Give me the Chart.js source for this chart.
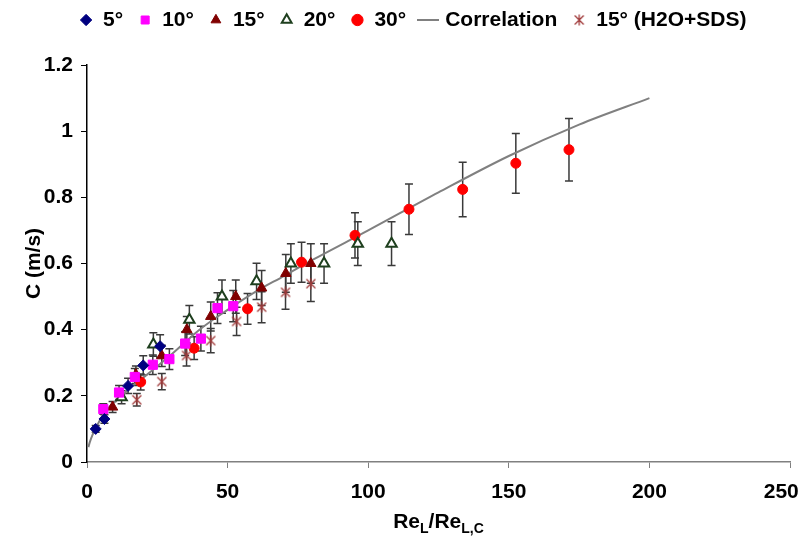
<!DOCTYPE html>
<html>
<head>
<meta charset="utf-8">
<title>C vs ReL/ReL,C</title>
<script src="https://cdn.jsdelivr.net/npm/chart.js@4.4.1/dist/chart.umd.min.js"></script>
<style>
  html, body { margin: 0; padding: 0; background: #fff; }
  #wrap { position: relative; width: 801px; height: 547px; }
  #xTitle {
    position: absolute; left: 87px; width: 703px; top: 509px;
    text-align: center; font: bold 21px "Liberation Sans", Arial, sans-serif; color: #000;
  }
  #xTitle sub { font-size: 14px; vertical-align: -5px; }
</style>
</head>
<body>
<div id="wrap">
  <canvas id="chart" width="801" height="547"></canvas>
  <div id="xTitle">Re<sub>L</sub>/Re<sub>L,C</sub></div>
</div>
<script>
// ---- data ----
const deg5X  = [3.1, 6.2, 14.6, 20.0, 26.0];
const deg5Y  = [0.10, 0.13, 0.23, 0.292, 0.35];

const deg10X = [5.8, 11.4, 17.0, 23.4, 29.3, 34.9, 40.5, 46.4, 52.0];
const deg10Y = [0.16, 0.21, 0.257, 0.294, 0.311, 0.358, 0.373, 0.465, 0.471];

const deg15X = [9.1, 17.4, 26.6, 35.5, 44.0, 52.9, 62.1, 70.7, 79.6];
const deg15Y = [0.166, 0.264, 0.321, 0.40, 0.44, 0.50, 0.526, 0.57, 0.60];

const deg20X = [12.3, 23.6, 36.4, 48.0, 60.3, 72.5, 84.3, 96.3, 108.3];
const deg20Y = [0.196, 0.355, 0.43, 0.50, 0.546, 0.60, 0.60, 0.66, 0.66];

const deg30X = [19.1, 38.1, 57.1, 76.3, 95.3, 114.5, 133.6, 152.5, 171.4];
const deg30Y = [0.242, 0.344, 0.463, 0.604, 0.685, 0.764, 0.824, 0.903, 0.944];

const sdsX   = [17.7, 26.6, 35.4, 44.0, 53.2, 62.1, 70.6, 79.6];
const sdsY   = [0.188, 0.243, 0.322, 0.367, 0.425, 0.468, 0.513, 0.539];

const corrX  = [0.5, 1, 2, 3, 5, 7.5, 10, 12.5, 15, 20, 30, 40, 50, 60, 70, 80, 100, 125, 150, 175, 200];
const corrY  = [0.045, 0.06, 0.083, 0.10, 0.132, 0.163, 0.183, 0.20, 0.222, 0.255, 0.325, 0.40, 0.46, 0.515, 0.562, 0.61, 0.70, 0.815, 0.925, 1.02, 1.10];

// relative error shown by the bars (about 10 %)
const errFrac = 0.1;

// Helper
const pts = (xs, ys) => xs.map((x, i) => ({ x, y: ys[i] }));

// little grey line used as legend icon for the correlation
const lineIcon = document.createElement('canvas');
lineIcon.width = 22;
lineIcon.height = 4;
const lctx = lineIcon.getContext('2d');
lctx.fillStyle = '#808080';
lctx.fillRect(0, 1, 22, 2);

// asterisk-like marker (x with a vertical stroke) for the SDS series
const starIcon = document.createElement('canvas');
starIcon.width = 12;
starIcon.height = 12;
const sctx = starIcon.getContext('2d');
sctx.strokeStyle = '#a03a3a';
sctx.lineWidth = 1.3;
sctx.beginPath();
sctx.moveTo(1.5, 1.5); sctx.lineTo(10.5, 10.5);
sctx.moveTo(10.5, 1.5); sctx.lineTo(1.5, 10.5);
sctx.moveTo(6, 0.5); sctx.lineTo(6, 11.5);
sctx.stroke();

// Error bars, drawn under the markers
const errorBars = {
  id: 'errorBars',
  beforeDatasetsDraw(chart) {
    const { ctx, scales: { x, y } } = chart;
    ctx.save();
    ctx.strokeStyle = '#3a3a3a';
    ctx.lineWidth = 1.5;
    chart.data.datasets.forEach(ds => {
      if (!ds.errorBar) return;
      ds.data.forEach(p => {
        const px = x.getPixelForValue(p.x);
        const top = y.getPixelForValue(p.y * (1 + errFrac));
        const bot = y.getPixelForValue(p.y * (1 - errFrac));
        ctx.beginPath();
        ctx.moveTo(px, top); ctx.lineTo(px, bot);
        ctx.moveTo(px - 4, top); ctx.lineTo(px + 4, top);
        ctx.moveTo(px - 4, bot); ctx.lineTo(px + 4, bot);
        ctx.stroke();
      });
    });
    ctx.restore();
  }
};

// fixed legend height so the plot starts where the reference does,
// and the row nudged right like in the original
const legendPlace = {
  id: 'legendPlace',
  beforeInit(chart) {
    const fit = chart.legend.fit;
    chart.legend.fit = function () {
      fit.bind(chart.legend)();
      this.height = 71;
    };
  },
  afterLayout(chart) {
    chart.legend.left += 18;
    chart.legend.right += 18;
  }
};

Chart.defaults.font.family = '"Liberation Sans", Arial, sans-serif';
Chart.defaults.font.size = 21;
Chart.defaults.font.weight = 'bold';
Chart.defaults.color = '#000';

new Chart(document.getElementById('chart'), {
  type: 'scatter',
  data: {
    datasets: [
      { label: '5°', data: pts(deg5X, deg5Y), pointStyle: 'rectRot', pointRadius: 5.5,
        backgroundColor: '#000080', borderColor: '#000080', borderWidth: 1, errorBar: true },
      { label: '10°', data: pts(deg10X, deg10Y), pointStyle: 'rect', pointRadius: 6.5,
        backgroundColor: '#ff00ff', borderColor: '#ff00ff', borderWidth: 1, errorBar: true },
      { label: '15°', data: pts(deg15X, deg15Y), pointStyle: 'triangle', pointRadius: 6,
        backgroundColor: '#800000', borderColor: '#800000', borderWidth: 1, errorBar: true },
      { label: '20°', data: pts(deg20X, deg20Y), pointStyle: 'triangle', pointRadius: 6,
        backgroundColor: '#ffffff', borderColor: '#1e3f1e', borderWidth: 2, errorBar: true },
      { label: '30°', data: pts(deg30X, deg30Y), pointStyle: 'circle', pointRadius: 5,
        backgroundColor: '#ff0000', borderColor: '#ff0000', borderWidth: 1, errorBar: true },
      { label: 'Correlation', data: pts(corrX, corrY), showLine: true, pointRadius: 0,
        pointStyle: lineIcon, borderColor: '#808080', backgroundColor: '#808080',
        borderWidth: 2, cubicInterpolationMode: 'monotone' },
      { label: '15° (H2O+SDS)', data: pts(sdsX, sdsY), pointStyle: starIcon, pointRadius: 6,
        backgroundColor: '#a03a3a', borderColor: '#a03a3a', borderWidth: 1, errorBar: true }
    ]
  },
  options: {
    responsive: false,
    animation: false,
    layout: { padding: { top: -6, left: 0, right: 11, bottom: 0 } },
    plugins: {
      legend: {
        position: 'top',
        labels: {
          usePointStyle: true,
          boxWidth: 13,
          boxHeight: 8,
          padding: 15.5,
          font: { size: 21, weight: 'bold' }
        }
      },
      tooltip: { enabled: false }
    },
    scales: {
      x: {
        type: 'linear',
        min: 0, max: 250,
        ticks: {
          stepSize: 50, padding: 12,
          // last label sits a little inside the frame, as in the original
          callback: v => v === 250 ? '250\u00a0\u00a0\u00a0' : String(v)
        },
        border: { color: '#808080', width: 1.5 },
        grid: { display: true, drawOnChartArea: false, tickLength: 6, color: '#808080' },
        afterFit(scale) { scale.height = 85; scale.paddingLeft = 0; scale.paddingRight = 0; }
      },
      y: {
        min: 0, max: 1.2,
        ticks: { stepSize: 0.2, padding: 8, callback: v => String(+v.toFixed(1)) },
        border: { color: '#000', width: 1.5 },
        grid: { display: true, drawOnChartArea: false, tickLength: 6, color: '#000' },
        title: { display: true, text: 'C (m/s)', padding: { top: 22, bottom: 0 } },
        afterFit(scale) { scale.width = 87; }
      }
    }
  },
  plugins: [errorBars, legendPlace]
});
</script>
</body>
</html>
